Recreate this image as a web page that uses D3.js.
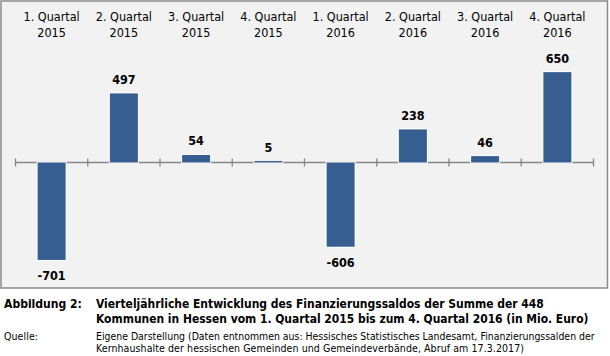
<!DOCTYPE html>
<html><head><meta charset="utf-8">
<script src="https://cdn.jsdelivr.net/npm/d3@7"></script>
<style>body{margin:0;background:#fff;}svg{display:block;}</style>
</head><body>
<svg id="c" width="610" height="356"></svg>
<script>
const quarters = ["1. Quartal","2. Quartal","3. Quartal","4. Quartal","1. Quartal","2. Quartal","3. Quartal","4. Quartal"];
const years = ["2015","2015","2015","2015","2016","2016","2016","2016"];
const values = [-701, 497, 54, 5, -606, 238, 46, 650];
const captionTitle = ["Vierteljährliche Entwicklung des Finanzierungssaldos der Summe der 448",
  "Kommunen in Hessen vom 1. Quartal 2015 bis zum 4. Quartal 2016 (in Mio. Euro)"];
const captionSource = ["Eigene Darstellung (Daten entnommen aus: Hessisches Statistisches Landesamt, Finanzierungssalden der",
  "Kernhaushalte der hessischen Gemeinden und Gemeindeverbände, Abruf am 17.3.2017)"];

const svg = d3.select("#c");
const font = "'DejaVu Sans Condensed', 'DejaVu Sans', sans-serif";
svg.append("rect").attr("x",1).attr("y",1).attr("width",606.5).attr("height",287)
  .attr("fill","#f2f2f2").attr("stroke","#8a8a8a").attr("stroke-width",1.5);

const idx = values.map((d,i)=>i);
const x = d3.scaleBand().domain(idx).range([15.5,593.5]).paddingInner(0).paddingOuter(0);
const y = d3.scaleLinear().domain([-800,800]).range([162.5+111.2,162.5-111.2]);

// axis
const axis = svg.append("g").attr("transform",`translate(0,${y(0)})`);
axis.append("line").attr("x1",x.range()[0]).attr("x2",x.range()[1]).attr("stroke","#868686").attr("stroke-width",1.3);
const ticks = idx.map(i=>x(i)).concat([x.range()[1]]);
axis.selectAll("line.t").data(ticks).join("line").attr("class","t")
  .attr("x1",d=>d).attr("x2",d=>d).attr("y1",-4).attr("y2",4).attr("stroke","#868686").attr("stroke-width",1.3);

const bw = 28;
// white outline behind bars
svg.selectAll("rect.bo").data(values).join("rect").attr("class","bo")
  .attr("x",(d,i)=>x(i)+x.bandwidth()/2-bw/2-1).attr("width",bw+2)
  .attr("y",d=>y(Math.max(0,d))-1).attr("height",d=>Math.abs(y(d)-y(0))+2)
  .attr("fill","#ffffff");
svg.selectAll("rect.bar").data(values).join("rect").attr("class","bar")
  .attr("x",(d,i)=>x(i)+x.bandwidth()/2-bw/2).attr("width",bw)
  .attr("y",d=>d>=0 ? Math.min(y(d), y(0)-1.5) : y(0)).attr("height",d=>Math.max(1.5,Math.abs(y(d)-y(0))))
  .attr("fill","#375e91");

svg.selectAll("text.v").data(values).join("text").attr("class","v")
  .attr("x",(d,i)=>x(i)+x.bandwidth()/2)
  .attr("y",d=> d>=0 ? y(d)-9.5 : y(d)+20.5)
  .attr("text-anchor","middle").attr("font-family",font).attr("font-weight","bold")
  .attr("font-size",12.5).attr("fill","#000").text(d=>d);

const cat = svg.selectAll("g.cat").data(idx).join("g").attr("class","cat");
cat.append("text").attr("x",i=>x(i)+x.bandwidth()/2).attr("y",21).attr("text-anchor","middle")
  .attr("font-family",font).attr("font-size",12.5).attr("fill","#000").text(i=>quarters[i]);
cat.append("text").attr("x",i=>x(i)+x.bandwidth()/2).attr("y",37).attr("text-anchor","middle")
  .attr("font-family",font).attr("font-size",12.5).attr("fill","#000").text(i=>years[i]);

function fit(sel, target, size){
  sel.attr("font-size",size);
  const w = sel.node().getComputedTextLength();
  if (w > target) sel.attr("font-size", size*target/w);
  else sel.attr("textLength",target).attr("lengthAdjust","spacing");
}
// caption
fit(svg.append("text").attr("x",4).attr("y",308).attr("font-family",font).attr("font-weight","bold")
  .text("Abbildung 2:"), 78, 12.5);
const tl = [448, 493];
captionTitle.forEach((t,i)=>{
  fit(svg.append("text").attr("x",96).attr("y",308+i*15).attr("font-family",font).attr("font-weight","bold")
    .text(t), tl[i], 12.5);
});
fit(svg.append("text").attr("x",4).attr("y",339.5).attr("font-family",font).text("Quelle:"), 34, 10.5);
const sl = [499, 428];
captionSource.forEach((t,i)=>{
  fit(svg.append("text").attr("x",96).attr("y",339.5+i*12).attr("font-family",font).text(t), sl[i], 10.5);
});
</script>
</body></html>
